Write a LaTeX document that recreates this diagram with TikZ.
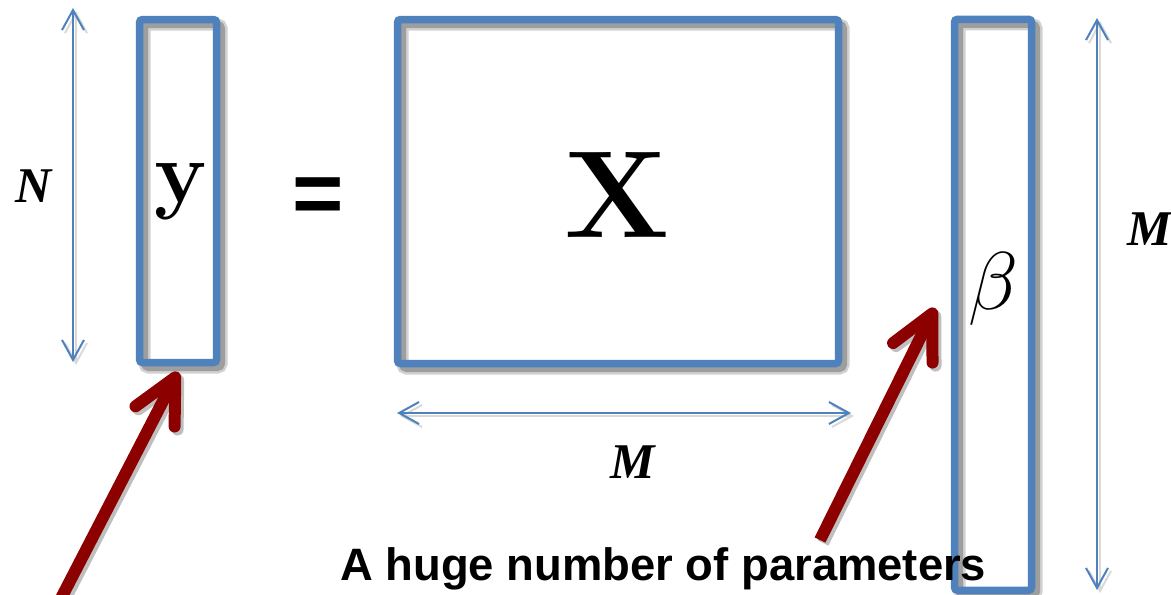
\RequirePackage{fix-cm}
\documentclass[tikz,border=0pt]{standalone}
\usepackage{fontspec}
\newfontfamily\sansb{Liberation Sans}
\newfontfamily\serifb{Liberation Serif}
\usetikzlibrary{arrows.meta,calc}
\definecolor{boxblue}{HTML}{4F81BD}
\definecolor{darkred}{RGB}{140,0,0}
\begin{document}
\begin{tikzpicture}[x=0.5pt,y=-0.5pt,
  frame/.style={draw=boxblue, line width=3.75pt, rounded corners=1.5pt, inner sep=0pt, outer sep=0pt},
  shadowA/.style={draw=black!18, line width=6pt, rounded corners=2pt, inner sep=0pt, outer sep=0pt},
  shadowB/.style={draw=black!38, line width=3.5pt, rounded corners=2pt, inner sep=0pt, outer sep=0pt},
  ysize/.style={minimum width=38.5pt, minimum height=171.5pt},
  xsize/.style={minimum width=220.5pt, minimum height=172pt},
  bsize/.style={minimum width=38.5pt, minimum height=285.5pt},
  dimarrow/.style={draw=boxblue, line width=1pt,
    {Straight Barb[length=10pt,width=11pt]}-{Straight Barb[length=10pt,width=11pt]}},
  dimshadow/.style={dimarrow, draw=black!15, transform canvas={shift={(1.5pt,-1.5pt)}}},
  redarrow/.style={draw=darkred, line width=6pt, line cap=butt,
    -{Straight Barb[length=22pt,width=22pt,round]}},
  redshadow/.style={redarrow, draw=black!25, transform canvas={shift={(1.5pt,-1.5pt)}}},
  dimlabel/.style={font=\fontsize{25}{30}\selectfont\serifb\bfseries\itshape, inner sep=0pt},
  letter/.style={inner sep=0pt}
]
\useasboundingbox (0,0) rectangle (1171,594);

% shadows of the boxes
\node[shadowA, ysize] at (183,196) {};
\node[shadowB, ysize] at (183,196) {};
\node[shadowA, xsize] at (623,196.5) {};
\node[shadowB, xsize] at (623,196.5) {};
\node[shadowA, bsize] at (998,309.75) {};
\node[shadowB, bsize] at (998,309.75) {};

% boxes
\node[frame, ysize] (ybox) at (178,191) {};
\node[frame, xsize] (xbox) at (618,191.5) {};
\node[frame, bsize] (bbox) at (993,304.75) {};

% letters
\node[letter, anchor=base, font=\fontsize{44}{44}\selectfont\bfseries] (ylet) at (181,202) {y};
\node[letter, anchor=base, font=\fontsize{62}{62}\selectfont\bfseries] (xlet) at (617,237) {X};
\node[letter, anchor=base, font=\fontsize{41}{41}\selectfont] (blet) at (993,309) {$\beta$};
\node[letter, anchor=base, font=\fontsize{44}{44}\selectfont\sansb\bfseries] (eq) at (318,223) {=};

% dimension arrows
\coordinate (ntop) at (73,8);
\coordinate (nbot) at (73,362);
\coordinate (mleft) at (397,413);
\coordinate (mright) at (851,413);
\coordinate (rtop) at (1097,18);
\coordinate (rbot) at (1097,590);
\draw[dimshadow] (ntop) -- (nbot);
\draw[dimshadow] (mleft) -- (mright);
\draw[dimshadow] (rtop) -- (rbot);
\draw[dimarrow] (ntop) -- (nbot);
\draw[dimarrow] (mleft) -- (mright);
\draw[dimarrow] (rtop) -- (rbot);

\node[dimlabel, anchor=base] (nlab) at (34,202) {N};
\node[dimlabel, anchor=base] (mlab) at (633,478) {M};
\node[dimlabel, anchor=base] (mlab2) at (1150,245) {M};

% red arrows
\coordinate (t1) at (55,610);
\coordinate (h1) at (178,372);
\coordinate (t2) at (820,540);
\coordinate (h2) at (935,308);
\draw[redshadow] (t1) -- (h1);
\draw[redshadow] (t2) -- (h2);
\draw[redarrow] (t1) -- (h1);
\draw[redarrow] (t2) -- (h2);

% caption
\node[inner sep=0pt, anchor=base west, font=\fontsize{22.7}{27}\selectfont\sansb\bfseries] (cap) at (340,580) {A huge number of parameters};
\end{tikzpicture}
\end{document}
